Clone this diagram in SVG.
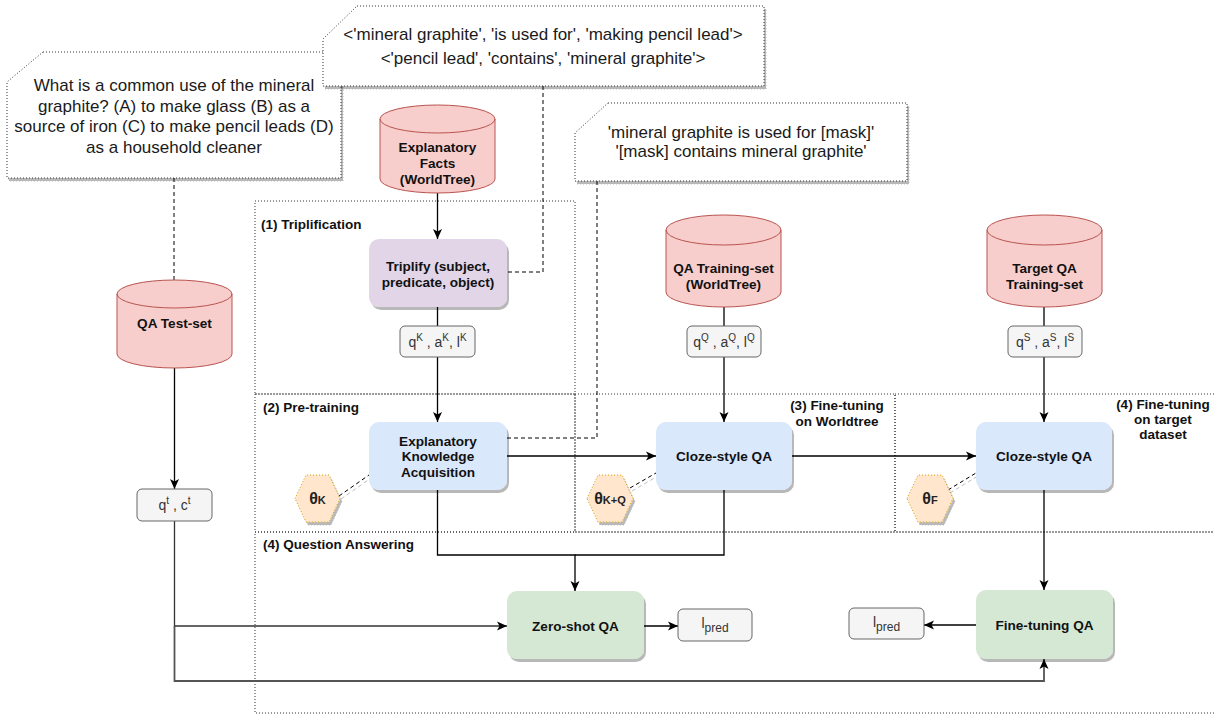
<svg xmlns="http://www.w3.org/2000/svg" width="1214" height="715" viewBox="0 0 1214 715">
<style>
text{font-family:"Liberation Sans",Arial,Helvetica,sans-serif;}
.call{fill:#fff;stroke:#333;stroke-width:1;stroke-dasharray:1 2;filter:url(#sh);}
.ct{font-size:17px;fill:#1a1a1a;text-anchor:middle;}
.cyl{fill:#f8cecc;stroke:#b85450;stroke-width:1;}
.bt{font-size:13.6px;font-weight:bold;fill:#111;text-anchor:middle;}
.lab{fill:#f5f5f5;stroke:#666;stroke-width:1;}
.lt{font-size:14px;fill:#333;text-anchor:middle;}
.purple{fill:#e1d5e7;stroke:none;filter:url(#sh);}
.blue{fill:#dae8fc;stroke:none;filter:url(#sh);}
.green{fill:#d5e8d4;stroke:none;filter:url(#sh);}
.hex{fill:#ffe6cc;stroke:#d79b00;stroke-width:1;stroke-dasharray:1 2;filter:url(#sh);}
.ht{font-size:16px;font-weight:bold;fill:#222;text-anchor:middle;}
.region{fill:none;stroke:#333;stroke-width:1;stroke-dasharray:1 2;}
.st{font-size:13.5px;font-weight:bold;fill:#111;}
.edge{fill:none;stroke:#000;stroke-width:1.3;}
.dash{fill:none;stroke:#000;stroke-width:1;stroke-dasharray:4 3;}
.hdash{fill:none;stroke:#000;stroke-width:1;stroke-dasharray:4 3;filter:url(#sh2);}
</style>
<defs>
<filter id="sh" x="-10%" y="-10%" width="130%" height="140%">
<feDropShadow dx="2" dy="3" stdDeviation="0.7" flood-color="#000" flood-opacity="0.28"/>
</filter>
<filter id="sh2" x="-20%" y="-20%" width="150%" height="150%">
<feDropShadow dx="2" dy="3" stdDeviation="0.3" flood-color="#000" flood-opacity="0.25"/>
</filter>
<marker id="arr" viewBox="0 0 10 10" refX="10" refY="5" markerWidth="10" markerHeight="10" markerUnits="userSpaceOnUse" orient="auto">
<path d="M0,0.5 L10,5 L0,9.5 L2.5,5 z" fill="#000"/>
</marker>
</defs>

<!-- regions -->
<g id="regions">
<rect class="region" x="255" y="201" width="320" height="193"/>
<rect class="region" x="255" y="394" width="320" height="138"/>
<rect class="region" x="575" y="394" width="320" height="138"/>
<rect class="region" x="895" y="394" width="325" height="138"/>
<rect class="region" x="255" y="532" width="965" height="181"/>
<text class="st" x="261" y="229">(1) Triplification</text>
<text class="st" x="263" y="412">(2) Pre-training</text>
<text class="st" x="263" y="549">(4) Question Answering</text>
<text class="st" text-anchor="middle" x="837" y="410">(3) Fine-tuning</text>
<text class="st" text-anchor="middle" x="837" y="426">on Worldtree</text>
<text class="st" text-anchor="middle" x="1163" y="409">(4) Fine-tuning</text>
<text class="st" text-anchor="middle" x="1163" y="424">on target</text>
<text class="st" text-anchor="middle" x="1163" y="439">dataset</text>
</g>

<!-- connectors -->
<g id="connectors">
<path class="dash" d="M174,178 V280"/>
<path class="dash" d="M543,86 V272 H507"/>
<path class="dash" d="M597,181 V438 H507"/>
<path class="hdash" d="M339,496 L369,475"/>
<path class="hdash" d="M630,488 L656,473"/>
<path class="hdash" d="M948,490 L976,473"/>
<path class="edge" d="M437.5,193 V239" marker-end="url(#arr)"/>
<path class="edge" d="M437.5,307 V326"/>
<path class="edge" d="M437.5,357 V422" marker-end="url(#arr)"/>
<path class="edge" d="M724,307 V326"/>
<path class="edge" d="M724,357 V422" marker-end="url(#arr)"/>
<path class="edge" d="M1044,307 V326"/>
<path class="edge" d="M1044,357 V422" marker-end="url(#arr)"/>
<path class="edge" d="M507,456 H656" marker-end="url(#arr)"/>
<path class="edge" d="M792,456 H976" marker-end="url(#arr)"/>
<path class="edge" d="M174.5,368 V489" marker-end="url(#arr)"/>
<path class="edge" style="stroke:#333" d="M174.5,521 V626 H507" marker-end="url(#arr)"/>
<path class="edge" style="stroke:#555;stroke-width:1.8" d="M174.5,626 V681 H1044 V659" marker-end="url(#arr)"/>
<path class="edge" d="M437.5,490 V555 H575 V591" marker-end="url(#arr)"/>
<path class="edge" d="M724,490 V555 H575"/>
<path class="edge" d="M644,626 H678" marker-end="url(#arr)"/>
<path class="edge" d="M1044,490 V590" marker-end="url(#arr)"/>
<path class="edge" d="M976,625 H924" marker-end="url(#arr)"/>
</g>

<!-- callouts -->
<g id="callout-question">
<polygon class="call" points="43,52 341,52 341,178 7,178 7,82"/>
<text class="ct" x="174" y="91">What is a common use of the mineral</text>
<text class="ct" x="174" y="112">graphite? (A) to make glass (B) as a</text>
<text class="ct" x="174" y="132">source of iron (C) to make pencil leads (D)</text>
<text class="ct" x="174" y="153">as a household cleaner</text>
</g>
<g id="callout-triples">
<polygon class="call" points="357,6 764,6 764,86 323,86 323,39"/>
<text class="ct" x="543" y="40">&lt;'mineral graphite', 'is used for', 'making pencil lead'&gt;</text>
<text class="ct" x="543" y="64">&lt;'pencil lead', 'contains', 'mineral graphite'&gt;</text>
</g>
<g id="callout-mask">
<polygon class="call" points="608,103 907,103 907,181 575,181 575,133"/>
<text class="ct" x="741" y="138">'mineral graphite is used for [mask]'</text>
<text class="ct" x="741" y="157">'[mask] contains mineral graphite'</text>
</g>

<!-- cylinders -->
<g id="explanatory-facts">
<path class="cyl" d="M380,119 A57.5,14 0 0 1 495,119 V179 A57.5,14 0 0 1 380,179 Z"/>
<path class="cyl" style="fill:none" d="M380,119 A57.5,14 0 0 0 495,119"/>
<text class="bt" x="437.5" y="152">Explanatory</text>
<text class="bt" x="437.5" y="168">Facts</text>
<text class="bt" x="437.5" y="184">(WorldTree)</text>
</g>
<g id="qa-test-set">
<path class="cyl" d="M117,294 A57.5,14 0 0 1 232,294 V354 A57.5,14 0 0 1 117,354 Z"/>
<path class="cyl" style="fill:none" d="M117,294 A57.5,14 0 0 0 232,294"/>
<text class="bt" x="174.5" y="328">QA Test-set</text>
</g>
<g id="qa-training-set">
<path class="cyl" d="M666,230 A57.5,15 0 0 1 781,230 V292 A57.5,15 0 0 1 666,292 Z"/>
<path class="cyl" style="fill:none" d="M666,230 A57.5,15 0 0 0 781,230"/>
<text class="bt" x="723.5" y="273">QA Training-set</text>
<text class="bt" x="723.5" y="289">(WorldTree)</text>
</g>
<g id="target-qa-training-set">
<path class="cyl" d="M987,230 A57.5,15 0 0 1 1102,230 V292 A57.5,15 0 0 1 987,292 Z"/>
<path class="cyl" style="fill:none" d="M987,230 A57.5,15 0 0 0 1102,230"/>
<text class="bt" x="1044.5" y="273">Target QA</text>
<text class="bt" x="1044.5" y="289">Training-set</text>
</g>

<!-- main boxes -->
<g id="triplify">
<rect class="purple" x="369" y="239" width="138" height="68" rx="10"/>
<text class="bt" x="438" y="271">Triplify (subject,</text>
<text class="bt" x="438" y="287">predicate, object)</text>
</g>
<g id="eka">
<rect class="blue" x="369" y="422" width="138" height="68" rx="10"/>
<text class="bt" x="438" y="446">Explanatory</text>
<text class="bt" x="438" y="461">Knowledge</text>
<text class="bt" x="438" y="477">Acquisition</text>
</g>
<g id="cloze-worldtree">
<rect class="blue" x="656" y="422" width="136" height="68" rx="10"/>
<text class="bt" x="724" y="461">Cloze-style QA</text>
</g>
<g id="cloze-target">
<rect class="blue" x="976" y="422" width="136" height="68" rx="10"/>
<text class="bt" x="1044" y="461">Cloze-style QA</text>
</g>
<g id="zero-shot-qa">
<rect class="green" x="507" y="591" width="137" height="68" rx="10"/>
<text class="bt" x="575.5" y="631">Zero-shot QA</text>
</g>
<g id="fine-tuning-qa">
<rect class="green" x="976" y="590" width="137" height="69" rx="10"/>
<text class="bt" x="1044.5" y="630">Fine-tuning QA</text>
</g>

<!-- label boxes -->
<g id="lab-k">
<rect class="lab" x="400" y="326" width="75" height="31" rx="5"/>
<text class="lt" x="437.5" y="347">q<tspan font-size="10" dy="-6">K</tspan><tspan dy="6"> , a</tspan><tspan font-size="10" dy="-6">K</tspan><tspan dy="6">, l</tspan><tspan font-size="10" dy="-6">K</tspan></text>
</g>
<g id="lab-q">
<rect class="lab" x="687" y="326" width="74" height="31" rx="5"/>
<text class="lt" x="724" y="347">q<tspan font-size="10" dy="-6">Q</tspan><tspan dy="6"> , a</tspan><tspan font-size="10" dy="-6">Q</tspan><tspan dy="6">, l</tspan><tspan font-size="10" dy="-6">Q</tspan></text>
</g>
<g id="lab-s">
<rect class="lab" x="1008" y="326" width="74" height="31" rx="5"/>
<text class="lt" x="1045" y="347">q<tspan font-size="10" dy="-6">S</tspan><tspan dy="6"> , a</tspan><tspan font-size="10" dy="-6">S</tspan><tspan dy="6">, l</tspan><tspan font-size="10" dy="-6">S</tspan></text>
</g>
<g id="lab-t">
<rect class="lab" x="137" y="489" width="75" height="32" rx="5"/>
<text class="lt" x="174.5" y="510">q<tspan font-size="10" dy="-6">t</tspan><tspan dy="6"> , c</tspan><tspan font-size="10" dy="-6">t</tspan></text>
</g>
<g id="lpred-zero">
<rect class="lab" x="678" y="609" width="74" height="32" rx="5"/>
<text class="lt" x="715" y="628">l<tspan font-size="12" dy="4">pred</tspan></text>
</g>
<g id="lpred-ft">
<rect class="lab" x="849" y="608" width="75" height="31" rx="5"/>
<text class="lt" x="886.5" y="627">l<tspan font-size="12" dy="4">pred</tspan></text>
</g>

<!-- theta hexagons -->
<g id="theta-k">
<polygon class="hex" points="295,498.5 306,475 329,475 340,498.5 329,522 306,522"/>
<text class="ht" x="317.5" y="504">θ<tspan font-size="11">K</tspan></text>
</g>
<g id="theta-kq">
<polygon class="hex" points="587,498.5 598,475 622,475 633,498.5 622,522 598,522"/>
<text class="ht" x="610" y="504">θ<tspan font-size="11">K+Q</tspan></text>
</g>
<g id="theta-f">
<polygon class="hex" points="907,498.5 918,475 942,475 953,498.5 942,522 918,522"/>
<text class="ht" x="930" y="504">θ<tspan font-size="11">F</tspan></text>
</g>
</svg>
